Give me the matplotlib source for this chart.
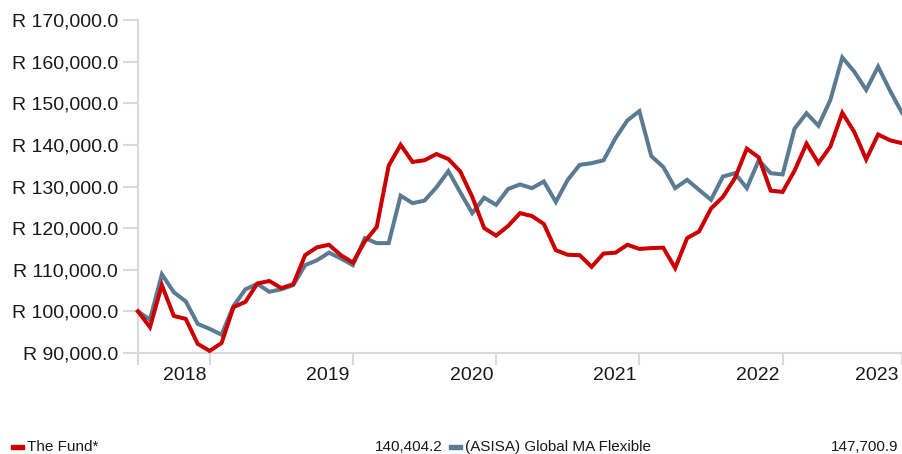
import matplotlib
matplotlib.use("Agg")
import matplotlib.pyplot as plt
import matplotlib.transforms as mtransforms

plt.rcParams['font.family'] = ['Liberation Sans', 'DejaVu Sans']

# ---- data ----
fund_name = "The Fund*"
bench_name = "(ASISA) Global MA Flexible"
fund = [100000, 96200, 106300, 98900, 98200, 92200, 90500, 92400, 101000, 102300,
        106700, 107300, 105600, 106500, 113500, 115400, 116000, 113500, 111700, 116800,
        120300, 135000, 140000, 135900, 136300, 137800, 136600, 133600, 127500, 120000,
        118200, 120500, 123600, 122900, 121000, 114700, 113600, 113500, 110700, 113900,
        114100, 116000, 115000, 115200, 115300, 110400, 117600, 119200, 124700, 127500,
        132000, 139100, 137000, 129000, 128700, 133800, 140300, 135600, 139600, 147700,
        143100, 136500, 142500, 141100, 140404.2]
bench = [100000, 98000, 108900, 104600, 102400, 97000, 95800, 94400, 101300, 105300,
         106600, 104700, 105300, 106300, 111100, 112300, 114100, 112700, 111100, 117600,
         116400, 116400, 127800, 126000, 126600, 129800, 133700, 128600, 123600, 127300,
         125600, 129400, 130500, 129600, 131200, 126300, 131600, 135200, 135600, 136300,
         141600, 145900, 148100, 137300, 134700, 129600, 131600, 129200, 126800, 132400,
         133200, 129600, 136300, 133200, 132900, 143900, 147600, 144600, 150800, 161000,
         157600, 153200, 158800, 153000, 147700.9]
year_tick_idx = [0, 6, 18, 30, 42, 54, 64]
year_labels = ["", "2018", "2019", "2020", "2021", "2022", "2023"]
y_ticks = [90000, 100000, 110000, 120000, 130000, 140000, 150000, 160000, 170000]

RED = "#cc0000"
BLUE = "#5b7b92"
GRID = "#d9d9d9"

W, H = 903, 454
fig = plt.figure(figsize=(W / 100, H / 100), dpi=100)
ax = fig.add_axes([138 / W, 1 - 353 / H, (902 - 138) / W, (353 - 20) / H])

x = list(range(len(fund)))
ax.plot(x, bench, color=BLUE, lw=2.9, solid_joinstyle='miter', clip_on=False, zorder=3)
ax.plot(x, fund, color=RED, lw=2.9, solid_joinstyle='miter', clip_on=False, zorder=4)

ax.set_xlim(0, len(fund) - 1)
ax.set_ylim(90000, 170000)

for s in ['top', 'right']:
    ax.spines[s].set_visible(False)
for s in ['left', 'bottom']:
    ax.spines[s].set_color(GRID)
    ax.spines[s].set_linewidth(1.5)

ax.set_yticks(y_ticks)
ax.set_yticklabels([f"R {v:,.1f}" for v in y_ticks])
ax.tick_params(axis='y', length=10.8, width=1.5, color=GRID, pad=3.6,
               labelsize=14, labelcolor='#1a1a1a')

ax.set_xticks(year_tick_idx)
ax.set_xticklabels(year_labels)
ax.tick_params(axis='x', length=8.6, width=1.5, color=GRID, pad=1.5,
               labelsize=14, labelcolor='#1a1a1a')
off = mtransforms.ScaledTranslation(-3 / 100, 0, fig.dpi_scale_trans)
for lbl in ax.get_xticklabels():
    lbl.set_ha('right')
    lbl.set_transform(lbl.get_transform() + off)

# ---- legend row ----
def fx(px):
    return px / W

def fy(py):
    return 1 - py / H

ly = 447
LFS = 11
fig.patches.append(plt.Rectangle((fx(11), fy(ly + 2)), 13 / W, 4 / H, color=RED,
                                 transform=fig.transFigure, figure=fig))
fig.text(fx(27), fy(ly), fund_name, fontsize=LFS, va='center', ha='left', color='#1a1a1a')
fig.text(fx(443), fy(ly), f"{fund[-1]:,.1f}", fontsize=LFS, va='center', ha='right', color='#1a1a1a')
fig.patches.append(plt.Rectangle((fx(449), fy(ly + 2)), 13 / W, 4 / H, color=BLUE,
                                 transform=fig.transFigure, figure=fig))
fig.text(fx(465), fy(ly), bench_name, fontsize=LFS, va='center', ha='left', color='#1a1a1a')
fig.text(fx(898), fy(ly), f"{bench[-1]:,.1f}", fontsize=LFS, va='center', ha='right', color='#1a1a1a')

fig.savefig("out.png", dpi=100)
